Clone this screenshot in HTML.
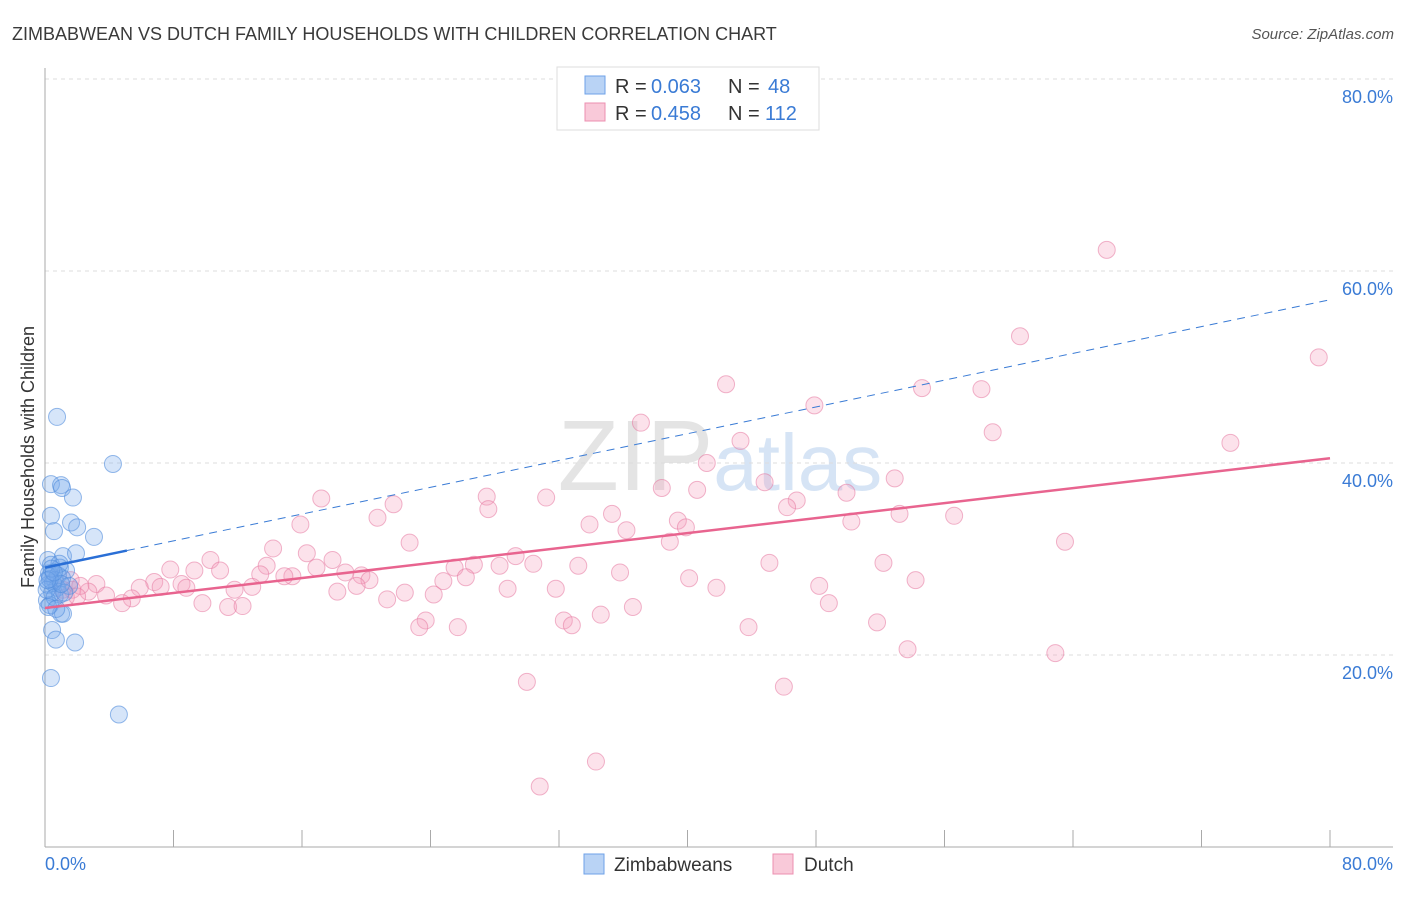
<!DOCTYPE html>
<html><head><meta charset="utf-8"><style>
body{margin:0;background:#fff;font-family:"Liberation Sans",sans-serif;}
svg text{font-family:"Liberation Sans",sans-serif;}
</style></head><body>
<svg id="chart" width="1406" height="892" xmlns="http://www.w3.org/2000/svg">
<text x="12" y="40" font-size="18" fill="#3a3a3a">ZIMBABWEAN VS DUTCH FAMILY HOUSEHOLDS WITH CHILDREN CORRELATION CHART</text>
<text x="1394" y="39" font-size="15" fill="#555" text-anchor="end" font-style="italic">Source: ZipAtlas.com</text>
<text x="720" y="490" font-size="100" fill="#e4e4e4" text-anchor="middle" font-family="Liberation Serif">ZIP<tspan fill="#d6e4f5" font-family="Liberation Sans" font-size="80">atlas</tspan></text>
<g id="grid"></g>
<g id="marks"></g>
<text transform="translate(34,457) rotate(-90)" font-size="18" fill="#333" text-anchor="middle">Family Households with Children</text>
<g>
<rect x="557" y="67" width="262" height="63" fill="#fff" stroke="#ddd"/>
<rect x="585" y="76" width="20" height="18" fill="#b9d3f5" stroke="#6ea2e8"/>
<rect x="585" y="103" width="20" height="18" fill="#f9c9d9" stroke="#ec8fb0"/>
<text y="93" font-size="20" fill="#333"><tspan x="615">R =</tspan><tspan x="651" fill="#3a7bd5">0.063</tspan><tspan x="728">N =</tspan><tspan x="768" fill="#3a7bd5">48</tspan></text>
<text y="120" font-size="20" fill="#333"><tspan x="615">R =</tspan><tspan x="651" fill="#3a7bd5">0.458</tspan><tspan x="728">N =</tspan><tspan x="765" fill="#3a7bd5">112</tspan></text>
</g>
<g>
<rect x="584" y="854" width="20" height="20" fill="#b9d3f5" stroke="#6ea2e8"/>
<text x="614" y="871" font-size="19" fill="#333">Zimbabweans</text>
<rect x="773" y="854" width="20" height="20" fill="#f9c9d9" stroke="#ec8fb0"/>
<text x="804" y="871" font-size="19" fill="#333">Dutch</text>
</g>
</svg>
<script>
const yTicks=[20,40,60,80];
const yTickLabels=["20.0%","40.0%","60.0%","80.0%"];
const xEnds=["0.0%","80.0%"];
const blueX=[0.75,4.23,0.37,1.0,1.06,1.74,0.37,1.62,2.0,0.56,3.05,1.12,1.93,0.19,0.37,0.93,1.31,0.31,0.62,1.06,0.19,0.75,0.44,0.93,0.12,0.31,1.0,1.12,0.44,0.68,1.87,0.37,4.6,0.25,0.5,0.8,0.1,1.5,0.6,0.3,0.9,0.2,1.2,0.4,0.7,1.0,0.15,0.55];
const blueY=[44.8,39.9,37.8,37.7,37.4,36.4,34.5,33.8,33.3,32.9,32.3,30.3,30.6,29.9,29.4,29.1,28.8,28.2,27.8,28.0,27.3,27.0,26.5,26.3,25.7,25.2,24.3,24.3,22.6,21.6,21.3,17.6,13.8,28.5,27.5,28.3,26.8,27.2,26.0,27.9,29.5,25.0,26.5,29.0,24.8,27.4,27.8,28.6];
const pinkX=[66.1,60.7,79.3,42.4,47.9,54.6,58.3,37.1,43.3,59.0,73.8,41.2,44.8,52.9,38.4,40.6,27.5,31.2,17.2,49.9,46.8,27.6,21.7,46.2,35.3,53.2,56.6,20.7,15.9,33.9,39.4,50.2,39.9,36.2,38.9,22.7,63.5,14.2,16.3,29.3,10.3,17.9,30.4,26.7,33.2,45.1,52.2,13.8,25.5,28.3,16.9,7.8,9.3,10.9,18.7,19.7,15.4,35.8,13.4,20.2,26.2,24.8,40.1,54.2,14.9,6.8,8.5,3.2,5.9,7.2,8.8,19.4,48.2,41.8,31.8,28.8,18.2,11.8,12.9,22.4,24.2,3.8,2.7,5.4,21.3,9.8,4.8,48.8,11.4,12.3,36.6,34.6,23.7,32.3,32.8,51.8,23.3,25.7,43.8,53.7,62.9,30.0,46.0,34.3,30.8,1.6,1.1,1.7,2.2,1.3,2.0];
const pinkY=[62.2,53.2,51.0,48.2,46.0,47.8,47.7,44.2,42.3,43.2,42.1,40.0,38.0,38.4,37.4,37.2,36.5,36.4,36.3,36.9,36.1,35.2,35.7,35.4,34.7,34.7,34.5,34.3,33.6,33.6,34.0,33.9,33.3,33.0,31.8,31.7,31.8,31.1,30.6,30.3,29.9,29.9,29.5,29.4,29.3,29.6,29.6,29.3,29.1,29.3,29.1,28.9,28.8,28.8,28.6,28.3,28.2,28.6,28.4,27.8,28.1,27.7,28.0,27.8,28.2,27.6,27.4,27.4,27.0,27.1,27.0,27.2,27.2,27.0,26.9,26.9,26.6,26.8,27.1,26.5,26.3,26.2,26.6,25.9,25.8,25.4,25.4,25.4,25.0,25.1,25.0,24.2,23.6,23.6,23.1,23.4,22.9,22.9,22.9,20.6,20.2,17.2,16.7,8.9,6.3,27.8,26.8,26.8,27.2,26.0,26.1];
const blueTrend=[29.1,57.0];
const pinkTrend=[24.9,40.5];
const NS="http://www.w3.org/2000/svg";
const X=v=>45+v*(1285/80);
const Y=v=>847-v*9.6;
function mk(tag,attrs,parent){const e=document.createElementNS(NS,tag);for(const k in attrs)e.setAttribute(k,attrs[k]);parent.appendChild(e);return e;}
const grid=document.getElementById('grid');
const marks=document.getElementById('marks');
yTicks.forEach((t,i)=>{
  const l=mk('line',{x1:45,x2:1393,y1:Y(t),y2:Y(t),stroke:'#ddd','stroke-dasharray':'4,4'},grid);
  
  
  const tx=mk('text',{x:1393,y:Y(t)+24,'font-size':18,fill:'#3a7bd5','text-anchor':'end'},grid);
  tx.textContent=yTickLabels[i];
  
  
});
const ax=mk('line',{x1:45,x2:45,y1:68,y2:847,stroke:'#aaa'},grid);


const bx=mk('line',{x1:45,x2:1393,y1:847,y2:847,stroke:'#aaa'},grid);


for(let v=8;v<=80;v+=8){
  const t=mk('line',{x1:X(v),x2:X(v),y1:830,y2:847,stroke:'#aaa'},grid);
  
  
}
const xl0=mk('text',{x:45,y:870,'font-size':18,fill:'#3a7bd5'},grid);xl0.textContent=xEnds[0];


const xl1=mk('text',{x:1393,y:870,'font-size':18,fill:'#3a7bd5','text-anchor':'end'},grid);xl1.textContent=xEnds[1];


pinkX.forEach((x,i)=>{
  const c=mk('circle',{cx:X(x),cy:Y(pinkY[i]),r:8.5,fill:'rgba(244,160,190,0.3)',stroke:'rgba(230,120,160,0.55)','stroke-width':1},marks);
  
  
});
blueX.forEach((x,i)=>{
  const c=mk('circle',{cx:X(x),cy:Y(blueY[i]),r:8.5,fill:'rgba(120,170,235,0.3)',stroke:'rgba(80,140,220,0.6)','stroke-width':1},marks);
  
  
});
const by=v=>blueTrend[0]+(blueTrend[1]-blueTrend[0])*v/80;
const bd=mk('line',{x1:X(5.1),y1:Y(by(5.1)),x2:X(80),y2:Y(by(80)),stroke:'#3a7bd5','stroke-width':1,'stroke-dasharray':'8,6'},marks);


const bs=mk('line',{x1:X(0),y1:Y(by(0)),x2:X(5.1),y2:Y(by(5.1)),stroke:'#2a6fd6','stroke-width':2.5},marks);


const pl=mk('line',{x1:X(0),y1:Y(pinkTrend[0]),x2:X(80),y2:Y(pinkTrend[1]),stroke:'#e8648f','stroke-width':2.5},marks);


</script>
</body></html>
